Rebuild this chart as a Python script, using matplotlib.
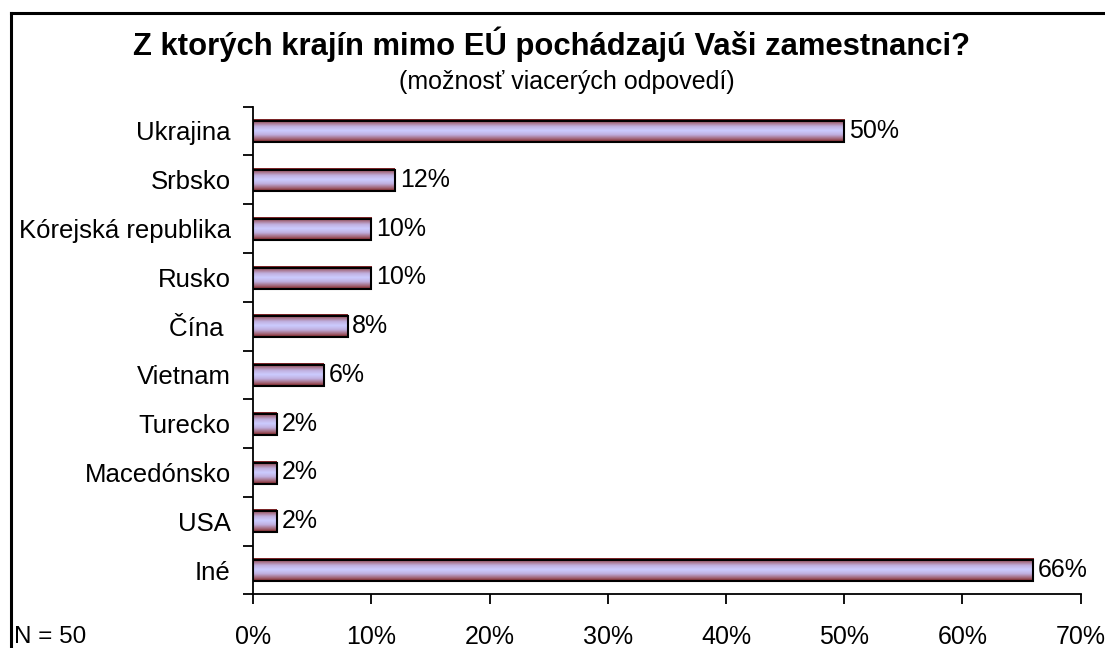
import numpy as np
import matplotlib.pyplot as plt
from matplotlib.colors import LinearSegmentedColormap
from matplotlib.patches import Rectangle
from matplotlib.lines import Line2D

countries = ["Ukrajina", "Srbsko", "Kórejská republika", "Rusko", "Čína ",
             "Vietnam", "Turecko", "Macedónsko", "USA", "Iné"]
shares = [50, 12, 10, 10, 8, 6, 2, 2, 2, 66]
xticks = [0, 10, 20, 30, 40, 50, 60, 70]

plt.rcParams["font.family"] = ["Liberation Sans", "DejaVu Sans"]

fig = plt.figure(figsize=(11.05, 6.48), dpi=100)
ax = fig.add_axes([0.229, 0.0827, 0.749, 0.7528])

# vertical gradient: dark red edges -> lavender centre
cmap = LinearSegmentedColormap.from_list(
    "bar", [(0.0, "#7a1e1e"), (0.12, "#a06070"), (0.32, "#c0b0e0"),
            (0.5, "#ccccff"), (0.68, "#c0b0e0"), (0.88, "#a06070"),
            (1.0, "#7a1e1e")])
grad = np.linspace(0, 1, 64).reshape(-1, 1)

h = 0.46
for i, v in enumerate(shares):
    ax.imshow(grad, extent=[0, v, i + h / 2, i - h / 2], cmap=cmap,
              aspect="auto", interpolation="bilinear", zorder=2)
    ax.add_patch(Rectangle((0, i - h / 2 + 0.03), v, h - 0.03, fill=False,
                           edgecolor="black", linewidth=1.5, zorder=3))
    ax.text(v + 0.4, i, f"{v}%", va="center", ha="left", fontsize=18)

ax.set_xlim(0, 70)
ax.set_ylim(len(countries) - 0.5, -0.5)
ax.set_xticks(xticks)
ax.set_xticklabels([f"{t}%" for t in xticks], fontsize=18)
ax.set_yticks(np.arange(len(countries) + 1) - 0.5)
ax.set_yticklabels([])
ax.set_yticks(np.arange(len(countries)), minor=True)
ax.set_yticklabels(countries, minor=True, fontsize=18.5)
ax.tick_params(axis="y", which="major", length=7, width=1.3, direction="out")
ax.tick_params(axis="y", which="minor", length=0, pad=16)
ax.tick_params(axis="x", length=7, width=1.3, direction="out", pad=15)
for s in ["top", "right"]:
    ax.spines[s].set_visible(False)
for s in ["left", "bottom"]:
    ax.spines[s].set_linewidth(1.3)

fig.text(0.499, 0.931, "Z ktorých krajín mimo EÚ pochádzajú Vaši zamestnanci?",
         ha="center", va="center", fontsize=22.3, fontweight="bold")
fig.text(0.513, 0.874, "(možnosť viacerých odpovedí)", ha="center",
         va="center", fontsize=18)
fig.text(0.013, 0.017, "N = 50", ha="left", va="center", fontsize=17.5)

# outer frame (top and left only)
x0, y0 = 11 / 1105, 1 - 13 / 648
fig.add_artist(Line2D([x0, 1.0], [y0, y0], color="black", linewidth=2.2))
fig.add_artist(Line2D([x0, x0], [0, y0], color="black", linewidth=2.2))

fig.savefig("out.png", dpi=100)
